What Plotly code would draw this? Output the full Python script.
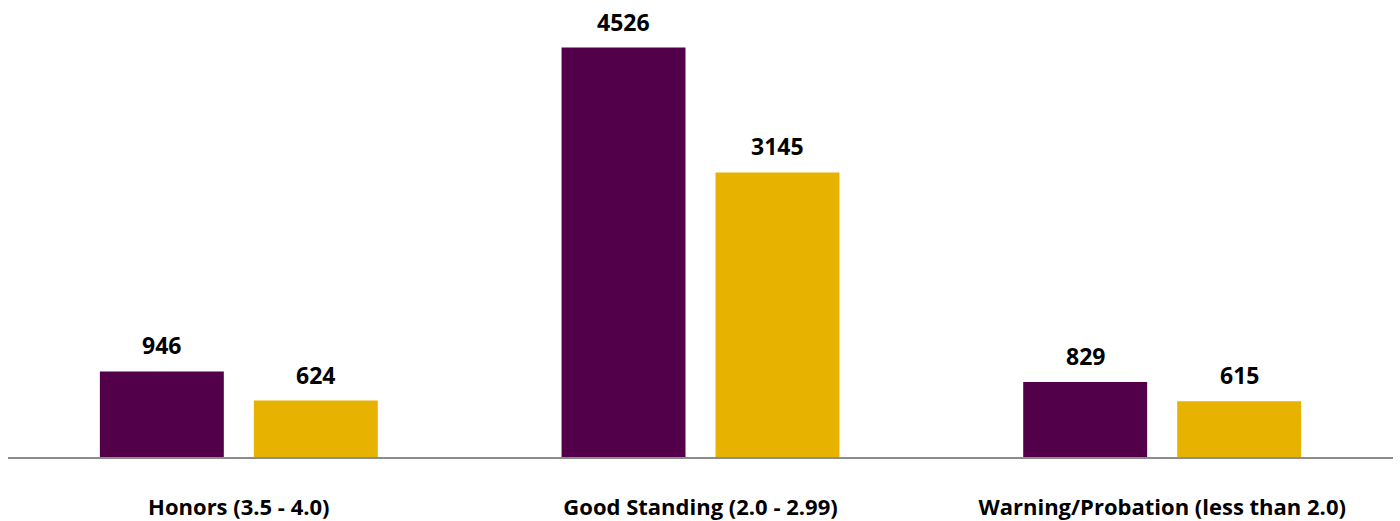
import plotly.graph_objects as go

categories = ["Honors (3.5 - 4.0)", "Good Standing (2.0 - 2.99)", "Warning/Probation (less than 2.0)"]
series_a = [946, 4526, 829]
series_b = [624, 3145, 615]
colors = ["#52004A", "#E8B200"]

BARGAP = 0.333
BARGROUPGAP = 0.195
FONT = "Open Sans"

fig = go.Figure()
for vals, col, name in [(series_a, colors[0], "A"), (series_b, colors[1], "B")]:
    fig.add_trace(go.Bar(
        x=list(range(len(categories))), y=vals, name=name,
        marker=dict(color=col, line=dict(width=0)),
    ))

# data labels above each bar
slot = (1 - BARGAP) / 2
for k, vals in enumerate([series_a, series_b]):
    off = (k - 0.5) * slot
    for i, v in enumerate(vals):
        fig.add_annotation(
            x=i + off, y=v, xref="x", yref="y", text=f"<b>{v}</b>",
            showarrow=False, yanchor="bottom", yshift=8,
            font=dict(family=FONT, size=23, color="#000000"),
        )

fig.update_layout(
    width=1400, height=521,
    margin=dict(l=8, r=7, t=0, b=59),
    paper_bgcolor="white", plot_bgcolor="white",
    barmode="group", bargap=BARGAP, bargroupgap=BARGROUPGAP,
    showlegend=False,
    font=dict(family=FONT, color="#000000"),
    xaxis=dict(
        showline=True, linecolor="#8C8C8C", linewidth=2, ticks="",
        tickmode="array", tickvals=list(range(len(categories))),
        ticktext=[f"<b>{c}</b>" for c in categories],
        tickfont=dict(family=FONT, size=22, color="#000000"),
        ticklabelstandoff=30, showgrid=False, range=[-0.5, 2.5],
    ),
    yaxis=dict(range=[0, 5051], visible=False, showgrid=False),
)

fig.write_html("out.html")
